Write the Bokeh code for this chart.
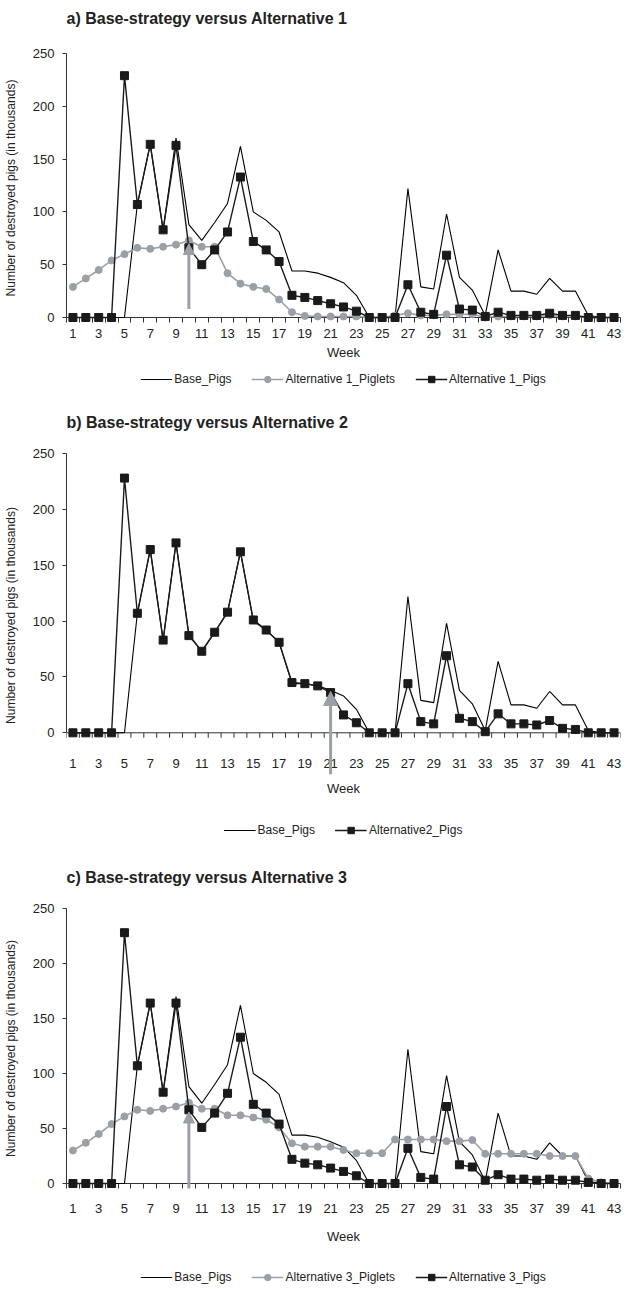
from bokeh.plotting import figure
from bokeh.models import Range1d, FixedTicker, Legend, LegendItem, Arrow, NormalHead, Label
from bokeh.layouts import column
from bokeh.embed import file_html
from bokeh.resources import INLINE

weeks = list(range(1, 44))
tick_weeks = list(range(1, 44, 2))
y_ticks = [0, 50, 100, 150, 200, 250]

base_pigs = [0, 0, 0, 0, 0, 107, 164, 83, 170, 88, 73, 90, 108, 162, 100, 92, 81, 44, 44, 42,
             38, 33, 21, 0, 0, 0, 122, 29, 27, 98, 38, 26, 2, 64, 25, 25, 22, 37, 25, 25, 2, 0, 0]

alt1_piglets = [29, 37, 45, 54, 60, 66, 65, 67, 69, 73, 67, 67, 42, 32, 29, 27, 17, 5, 1.5, 1,
                1, 1, 1, 0, 0, 2, 4, 2, 2, 3, 3, 3, 0, 1, 1, 1, 1, 2, 1, 1, 0, 0, 0]
alt1_pigs = [0, 0, 0, 0, 229, 107, 164, 83, 163, 66, 50, 64, 81, 133, 72, 64, 53, 21, 19, 16,
             13, 10, 6, 0, 0, 0, 31, 5, 3, 59, 8, 7, 1, 5, 2, 2, 2, 4, 2, 2, 0, 0, 0]

alt2_pigs = [0, 0, 0, 0, 228, 107, 164, 83, 170, 87, 73, 90, 108, 162, 101, 92, 81, 45, 44, 42,
             36, 16, 9, 0, 0, 0, 44, 10, 8, 69, 13, 10, 1, 17, 8, 8, 7, 11, 4, 3, 0, 0, 0]

alt3_piglets = [30, 37, 45, 54, 61, 67, 66, 68, 70, 73.5, 68, 68, 62, 62, 60, 58, 51, 36.5, 33.5, 33.5,
                33.5, 30.5, 27.5, 27.5, 27.5, 40, 40, 40, 40, 38.5, 38.5, 39.5, 27, 27, 27, 27, 27, 25, 25, 25,
                4.5, 1, 0]
alt3_pigs = [0, 0, 0, 0, 228, 107, 164, 83, 164, 67, 51, 64, 82, 133, 72, 64, 54, 22, 18.5, 17,
             14, 11, 7, 0, 0, 0, 32, 5.5, 4, 70, 17, 15, 3, 8, 4, 4, 3, 4, 3, 3, 1, 0, 0]

# arrows: (week, start value, end value)
arrow_a = (10, 8, 70)
arrow_b = (21, -37, 37)
arrow_c = (10, -5, 65)

FONT = "Liberation Sans"
GREY = "#9aa0a5"
BLACK = "#1a1a1a"
AXIS = "#333333"
TXT = "#222222"
GAP = 5      # px between zero line and frame bottom
TICK = 5     # px length of category ticks
W = 622
LEFT, RIGHT = 54, 2


def draw_series(p, piglets, pigs):
    rb = p.line(weeks, base_pigs, line_color="black", line_width=1.1)
    out = {"base": [rb]}
    if piglets is not None:
        rl = p.line(weeks, piglets, line_color=GREY, line_width=1.6)
        rs = p.scatter(weeks, piglets, marker="circle", size=7, fill_color=GREY, line_color=GREY)
        out["piglets"] = [rl, rs]
    pl = p.line(weeks, pigs, line_color=BLACK, line_width=1.4)
    ps = p.scatter(weeks, pigs, marker="square", size=8, fill_color=BLACK, line_color=BLACK)
    out["pigs"] = [pl, ps]
    return out


def title_strip(height, text, center_from_top):
    p = figure(width=W, height=height, x_range=Range1d(0, W), y_range=Range1d(0, height),
               output_backend="svg", toolbar_location=None, x_axis_location=None, y_axis_location=None,
               min_border_left=0, min_border_right=0, min_border_top=0, min_border_bottom=0)
    p.grid.visible = False
    p.outline_line_color = None
    p.add_layout(Label(x=0, y=height - center_from_top, text=text, text_font=FONT,
                       text_font_size="16px", text_font_style="bold", text_color=TXT,
                       text_baseline="middle", text_align="left"))
    return p


def panel(piglets, pigs, arrow, height, top, bottom, label_standoff, axis_label_standoff,
          head, deep_bottom=None):
    frame_h = height - top - bottom
    if deep_bottom is None:
        y_start = -GAP * 250.0 / (frame_h - GAP)
    else:
        y_start = deep_bottom
    p = figure(title=None, width=W, height=height, x_range=Range1d(0.5, 43.5),
               y_range=Range1d(y_start, 250), output_backend="svg", toolbar_location=None,
               min_border_left=LEFT, min_border_right=RIGHT, min_border_top=top, min_border_bottom=bottom)
    p.grid.visible = False
    p.outline_line_color = None

    bounds_x = [w - 0.5 for w in weeks] + [weeks[-1] + 0.5]
    xa = p.xaxis[0]
    xa.ticker = FixedTicker(ticks=tick_weeks, minor_ticks=bounds_x)
    xa.axis_line_color = None
    xa.major_tick_line_color = None
    xa.major_tick_out = 0
    xa.major_tick_in = 0
    # zero line (category axis baseline)
    p.line([bounds_x[0], bounds_x[-1]], [0, 0], line_color=AXIS, line_width=1)
    if deep_bottom is None:
        xa.minor_tick_line_color = AXIS
        xa.minor_tick_out = 0
        xa.minor_tick_in = GAP
    else:
        xa.minor_tick_line_color = None
        units_per_px = (250.0 - y_start) / frame_h
        p.segment(x0=bounds_x, y0=[0] * len(bounds_x), x1=bounds_x,
                  y1=[-TICK * units_per_px] * len(bounds_x), line_color=AXIS, line_width=1)
    xa.major_label_text_font = FONT
    xa.major_label_text_font_size = "13px"
    xa.major_label_text_color = TXT
    xa.major_label_standoff = label_standoff
    xa.axis_label = "Week"
    xa.axis_label_text_font = FONT
    xa.axis_label_text_font_size = "13px"
    xa.axis_label_text_font_style = "normal"
    xa.axis_label_text_color = TXT
    xa.axis_label_standoff = axis_label_standoff

    ya = p.yaxis[0]
    ya.bounds = (0, 250)
    ya.ticker = FixedTicker(ticks=y_ticks)
    ya.major_tick_out = 4
    ya.major_tick_in = 0
    ya.minor_tick_line_color = None
    ya.axis_line_color = AXIS
    ya.major_tick_line_color = AXIS
    ya.major_label_text_font = FONT
    ya.major_label_text_font_size = "13px"
    ya.major_label_text_color = TXT
    ya.major_label_standoff = 8
    ya.axis_label = "Number of destroyed pigs (in thousands)"
    ya.axis_label_text_font = FONT
    ya.axis_label_text_font_size = "12px"
    ya.axis_label_text_font_style = "normal"
    ya.axis_label_text_color = TXT
    ya.axis_label_standoff = 12

    draw_series(p, piglets, pigs)

    wk, y0, y1 = arrow
    p.add_layout(Arrow(end=NormalHead(size=head, fill_color=GREY, line_color=GREY, line_width=1),
                       x_start=wk, y_start=y0, x_end=wk, y_end=y1, line_color=GREY, line_width=3))
    return p


def legend_strip(height, piglets, pigs, piglets_label, pigs_label, location):
    # the series are drawn outside the visible range; only their legend glyphs show
    p = figure(width=W, height=height, x_range=Range1d(-2, -1), y_range=Range1d(0, 1),
               output_backend="svg", toolbar_location=None, x_axis_location=None, y_axis_location=None,
               min_border_left=LEFT, min_border_right=RIGHT, min_border_top=0, min_border_bottom=0)
    p.grid.visible = False
    p.outline_line_color = None
    r = draw_series(p, piglets, pigs)
    items = [LegendItem(label="Base_Pigs", renderers=r["base"])]
    if piglets_label is not None:
        items.append(LegendItem(label=piglets_label, renderers=r["piglets"]))
    items.append(LegendItem(label=pigs_label, renderers=r["pigs"]))
    legend = Legend(items=items, orientation="horizontal", location=location,
                    label_text_font=FONT, label_text_font_size="12px", label_text_color=TXT,
                    glyph_width=32, glyph_height=16, label_standoff=2, spacing=20,
                    border_line_color=None, background_fill_alpha=0, padding=2, margin=0)
    p.add_layout(legend, "center")
    return p


ta = title_strip(30, "a)   Base-strategy versus Alternative 1", 17.5)
pa = panel(alt1_piglets, alt1_pigs, arrow_a, 333, 23, 41, 6, 4, 11)
la = legend_strip(31, alt1_piglets, alt1_pigs, "Alternative 1_Piglets", "Alternative 1_Pigs", "center")
tb = title_strip(43, "b)   Base-strategy versus Alternative 2", 27.5)
pb = panel(None, alt2_pigs, arrow_b, 361, 16, 20, -23, 10, 14, deep_bottom=-40)
lb = legend_strip(64, None, alt2_pigs, None, "Alternative2_Pigs", "center")
tc = title_strip(28, "c)   Base-strategy versus Alternative 3", 15)
pc = panel(alt3_piglets, alt3_pigs, arrow_c, 358, 18, 60, 15, 13, 11)
lc = legend_strip(37, alt3_piglets, alt3_pigs, "Alternative 3_Piglets", "Alternative 3_Pigs", "bottom_center")

layout = column(ta, pa, la, tb, pb, lb, tc, pc, lc, spacing=0)
open("out.html", "w").write(file_html(layout, INLINE))
